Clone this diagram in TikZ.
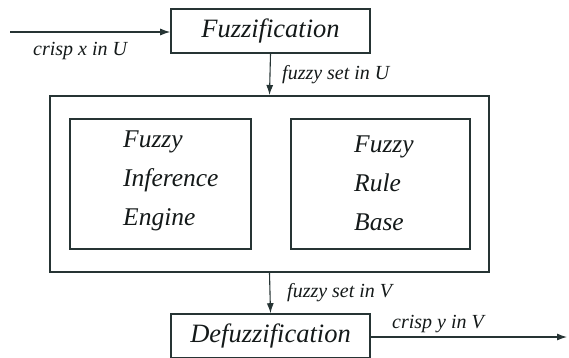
\documentclass[tikz,border=0pt]{standalone}
\usepackage{fontspec}
\setmainfont{Liberation Serif}[ItalicFont={Liberation Serif Italic}]
\usetikzlibrary{arrows.meta}
\definecolor{linegray}{RGB}{38,52,52}
\definecolor{textgray}{RGB}{20,25,25}
\tikzset{
    box/.style={draw=linegray, line width=1.6pt, inner sep=0pt},
    bigbox/.style={draw=linegray, line width=2pt, inner sep=0pt},
    flow/.style={draw=linegray, line width=1.1pt, -{Latex[length=10pt,width=7pt]}},
    lbl/.style={text=textgray, font=\itshape\fontsize{20}{24}\selectfont, inner sep=0pt},
    blocktext/.style={text=textgray, font=\itshape\fontsize{25.5}{39}\selectfont, align=left, inner sep=0pt}
}
\begin{document}
\begin{tikzpicture}[x=1pt, y=-1pt]
    \useasboundingbox (0,0) rectangle (569,357);
    % - Blocks
    \node[box, minimum width=199pt, minimum height=44pt, text=textgray, font=\itshape\fontsize{26.5}{30}\selectfont] (fuzz) at (270.5,31){Fuzzification};
    \node[bigbox, minimum width=439pt, minimum height=176pt] (outer) at (269.5,184){};
    \node[bigbox, minimum width=181pt, minimum height=130pt] (engine) at (160.5,184){};
    \node[bigbox, minimum width=179pt, minimum height=130pt] (rules) at (380.5,184){};
    \node[box, minimum width=199pt, minimum height=44pt, text=textgray, font=\itshape\fontsize{26.5}{30}\selectfont] (defuzz) at (270.5,336){Defuzzification};
    % - Texts in the inner blocks
    \node[blocktext, anchor=west] (enginetext) at (123,181){Fuzzy\\Inference\\Engine};
    \node[blocktext, anchor=west] (rulestext) at (354,183){Fuzzy\\Rule\\Base};
    % - Free ends of the in/out arrows
    \coordinate (xin) at (10,32);
    \coordinate (yout) at (567,337);
    % - Arrows
    \draw[flow] (xin) -- (fuzz.west|-xin);
    \draw[flow] (fuzz.south) -- (outer.north);
    \draw[flow] (outer.south) -- (defuzz.north);
    \draw[flow] (defuzz.east|-yout) -- (yout);
    % - Arrow labels
    \node[lbl, anchor=base west] (xlbl) at (33,55){crisp x in U};
    \node[lbl, anchor=base west] (ulbl) at (282,79){fuzzy set in U};
    \node[lbl, anchor=base west] (vlbl) at (287,297){fuzzy set in V};
    \node[lbl, anchor=base west] (ylbl) at (392,328){crisp y in V};
\end{tikzpicture}
\end{document}
